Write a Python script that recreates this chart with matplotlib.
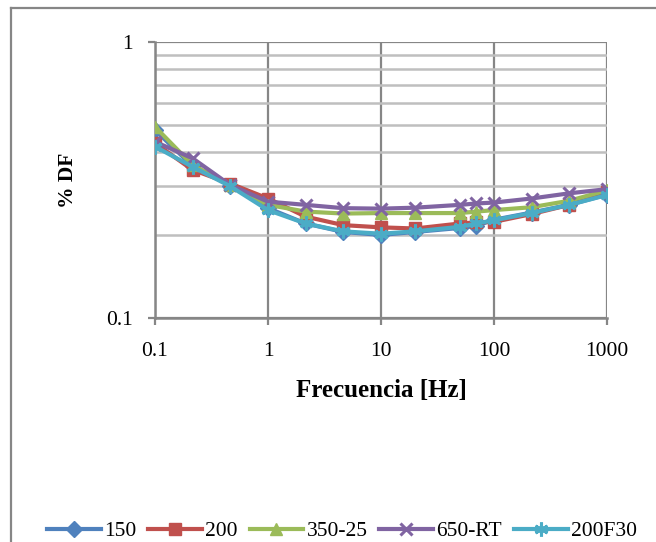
import matplotlib
matplotlib.use("Agg")
import matplotlib.pyplot as plt
from matplotlib.lines import Line2D
from matplotlib.ticker import FixedLocator, NullFormatter, FuncFormatter

freq = [0.1, 0.215, 0.464, 1, 2.15, 4.64, 10, 20, 50, 70, 100, 215, 464, 1000]
s150 = [0.48, 0.355, 0.302, 0.250, 0.220, 0.205, 0.200, 0.205, 0.212, 0.216, 0.227, 0.241, 0.257, 0.280]
s200 = [0.430, 0.344, 0.307, 0.271, 0.233, 0.217, 0.213, 0.211, 0.220, 0.222, 0.223, 0.238, 0.257, 0.287]
s350 = [0.493, 0.358, 0.303, 0.257, 0.243, 0.239, 0.240, 0.240, 0.240, 0.243, 0.246, 0.252, 0.266, 0.290]
s650 = [0.435, 0.379, 0.303, 0.264, 0.257, 0.250, 0.249, 0.251, 0.257, 0.260, 0.262, 0.271, 0.283, 0.293]
s200F30 = [0.418, 0.353, 0.300, 0.246, 0.220, 0.206, 0.202, 0.206, 0.214, 0.220, 0.226, 0.240, 0.257, 0.279]
labels = ["150", "200", "350-25", "650-RT", "200F30"]

colors = ["#4F81BD", "#C0504D", "#9BBB59", "#8064A2", "#4BACC6"]
markers = ["D", "s", "^", "x", (6, 2, 0)]
msizes = [8, 9, 9, 9, 10]

plt.rcParams['font.family'] = ['Liberation Serif', 'DejaVu Serif']

fig = plt.figure(figsize=(6.56, 5.42), dpi=100)
ax = fig.add_axes([155/656, 1-318/542, (607-155)/656, (318-42)/542])

series = [s150, s200, s350, s650, s200F30]
for vals, lab, c, m, ms in zip(series, labels, colors, markers, msizes):
    ax.plot(freq, vals, color=c, lw=3, marker=m, ms=ms, mew=2.2 if m in ("x", (6, 2, 0)) else 1,
            mec=c, mfc=c, label=lab, zorder=3)

ax.set_xscale('log')
ax.set_yscale('log')
ax.set_xlim(0.1, 1000)
ax.set_ylim(0.1, 1)

ax.xaxis.set_major_locator(FixedLocator([0.1, 1, 10, 100, 1000]))
ax.xaxis.set_minor_locator(FixedLocator([]))
ax.yaxis.set_major_locator(FixedLocator([0.1, 1]))
ax.yaxis.set_minor_locator(FixedLocator([0.2, 0.3, 0.4, 0.5, 0.6, 0.7, 0.8, 0.9]))
fmt = FuncFormatter(lambda v, p: ('%g' % v))
ax.xaxis.set_major_formatter(fmt)
ax.yaxis.set_major_formatter(fmt)
ax.yaxis.set_minor_formatter(NullFormatter())

ax.grid(True, which='major', axis='x', color='#868686', lw=1.6, zorder=1)
ax.grid(True, which='major', axis='y', color='#868686', lw=1.6, zorder=1)
ax.grid(True, which='minor', axis='y', color='#BFBFBF', lw=1.8, zorder=1)

for side in ['top', 'right']:
    ax.spines[side].set_visible(False)
for side in ['left', 'bottom']:
    ax.spines[side].set_color('#868686')
    ax.spines[side].set_linewidth(1.8)

ax.tick_params(axis='both', which='major', direction='out', length=5, width=1.6,
               color='#868686', labelsize=15.5, labelcolor='black')
ax.tick_params(axis='y', which='minor', length=0)
ax.tick_params(axis='y', which='major', pad=11)
ax.tick_params(axis='x', which='major', pad=12)

ax.set_xlabel('Frecuencia [Hz]', fontsize=18, fontweight='bold', labelpad=13)
ax.set_ylabel('% DF', fontsize=15.5, fontweight='bold', labelpad=20)

leg = fig.legend(loc='center', bbox_to_anchor=(342/656, 1-531/542), ncol=5, frameon=False,
                 fontsize=15.5, handlelength=2.5, handletextpad=0.15, columnspacing=0.55,
                 borderaxespad=0)

fig.add_artist(Line2D([11/656, 11/656], [0, 1-8/542], transform=fig.transFigure,
                      color='#868686', lw=1.6))
fig.add_artist(Line2D([11/656, 1], [1-8/542, 1-8/542], transform=fig.transFigure,
                      color='#868686', lw=1.6))

fig.savefig('out.png', dpi=100)
